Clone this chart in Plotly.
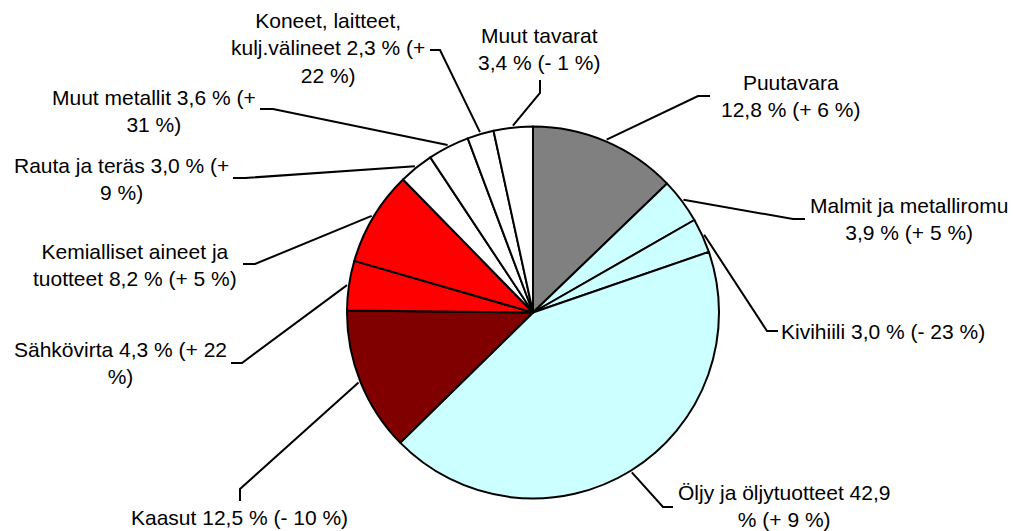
import math
import plotly.graph_objects as go

# Share of total (%) and change from previous year, clockwise from 12 o'clock
categories = ["Puutavara", "Malmit ja metalliromu", "Kivihiili", "Öljy ja öljytuotteet",
              "Kaasut", "Sähkövirta", "Kemialliset aineet ja tuotteet", "Rauta ja teräs",
              "Muut metallit", "Koneet, laitteet, kulj.välineet", "Muut tavarat"]
shares = [12.8, 3.9, 3.0, 42.9, 12.5, 4.3, 8.2, 3.0, 3.6, 2.3, 3.4]
changes = ["+ 6 %", "+ 5 %", "- 23 %", "+ 9 %", "- 10 %", "+ 22 %", "+ 5 %", "+ 9 %",
           "+ 31 %", "+ 22 %", "- 1 %"]
colors = ["#808080", "#CCFFFF", "#CCFFFF", "#CCFFFF", "#800000", "#FF0000", "#FF0000",
          "#FFFFFF", "#FFFFFF", "#FFFFFF", "#FFFFFF"]

# label text wrapping as in the original
label_text = [
    "Puutavara<br>12,8 % (+ 6 %)",
    "Malmit ja metalliromu<br>3,9 % (+ 5 %)",
    "Kivihiili 3,0 % (- 23 %)",
    "Öljy ja öljytuotteet 42,9<br>% (+ 9 %)",
    "Kaasut 12,5 % (- 10 %)",
    "Sähkövirta 4,3 % (+ 22<br>%)",
    "Kemialliset aineet ja<br>tuotteet 8,2 % (+ 5 %)",
    "Rauta ja teräs 3,0 % (+<br>9 %)",
    "Muut metallit 3,6 % (+<br>31 %)",
    "Koneet, laitteet,<br>kulj.välineet 2,3 % (+<br>22 %)",
    "Muut tavarat<br>3,4 % (- 1 %)",
]

# layout (pixels): label anchor, anchor side, leader elbow and end near label
W, H = 1013, 531
CX, CY, R = 533, 312.5, 186
label_pos = [(790, 96, "center"), (909, 219, "center"), (779, 331, "left"),
             (784, 506, "center"), (239, 517, "center"), (120, 363, "center"),
             (135, 265, "center"), (121, 179, "center"), (154, 111, "center"),
             (328, 48, "center"), (539, 49, "center")]
elbows = [((698, 96), (710, 96)), ((793, 219), (805, 219)), ((767, 331), (778, 331)),
          ((663, 507), (673, 507)), ((240, 489), (240, 501)), ((242, 363), (231, 363)),
          ((255, 264), (243, 264)), ((245, 178), (233, 178)), ((273, 109), (260, 109)),
          ((440, 50), (430, 50)), ((540, 93), (540, 80))]

fig = go.Figure()

fig.add_trace(go.Pie(
    labels=categories, values=shares, sort=False, direction="clockwise", rotation=0,
    marker=dict(colors=colors, line=dict(color="black", width=2)),
    textinfo="none", hoverinfo="label+percent", showlegend=False,
    domain=dict(x=[(CX - R) / W, (CX + R) / W],
                y=[(H - CY - R) / H, (H - CY + R) / H]),
))

# leader lines: start on the pie edge at each slice's mid angle
total = sum(shares)
lx, ly = [], []
cum = 0
for s, (el, end) in zip(shares, elbows):
    mid = (cum + s / 2) / total * 2 * math.pi
    cum += s
    sx = CX + (R + 2) * math.sin(mid)
    sy = CY - (R + 2) * math.cos(mid)
    lx += [sx, el[0], end[0], None]
    ly += [sy, el[1], end[1], None]

fig.add_trace(go.Scatter(x=lx, y=ly, mode="lines", line=dict(color="black", width=2),
                         hoverinfo="skip", showlegend=False))

for txt, (x, y, anchor) in zip(label_text, label_pos):
    fig.add_annotation(x=x, y=y, xref="x", yref="y", text=txt, showarrow=False,
                       xanchor=anchor, yanchor="middle", align="center",
                       font=dict(family="Liberation Sans, Arial", size=21, color="black"))

fig.update_layout(
    width=W, height=H,
    margin=dict(l=0, r=0, t=0, b=0),
    paper_bgcolor="white", plot_bgcolor="rgba(0,0,0,0)",
    xaxis=dict(range=[0, W], visible=False, domain=[0, 1], fixedrange=True),
    yaxis=dict(range=[H, 0], visible=False, domain=[0, 1], fixedrange=True),
)

# drop the default page margin so the figure sits at the window's corner
fig.write_html("out.html", config={"displayModeBar": False},
               post_script="document.body.style.margin='0';")
